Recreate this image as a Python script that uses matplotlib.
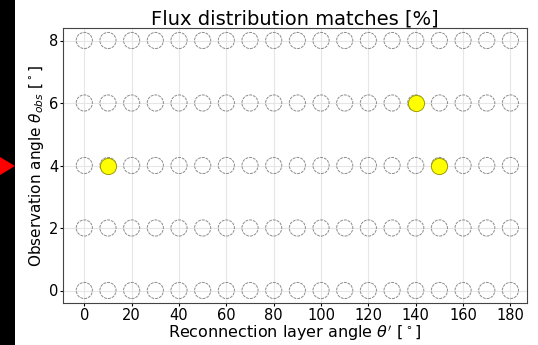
import numpy as np
import matplotlib
matplotlib.use('Agg')
import matplotlib.pyplot as plt
from matplotlib.patches import Rectangle, Polygon

# grid of angles that were scanned
theta_layer = np.arange(0, 181, 10)      # reconnection layer angle [deg]
theta_obs = np.array([0, 2, 4, 6, 8])    # observation angle [deg]

# combinations where the flux distribution matched
match_layer = [10, 140, 150]
match_obs = [4, 6, 4]

xticks = list(range(0, 181, 20))
yticks = [0, 2, 4, 6, 8]

fig = plt.figure(figsize=(5.38, 3.45), dpi=100)
ax = fig.add_axes([63/538, 1 - 303/345, (527 - 63)/538, (303 - 28)/345])

xx, yy = np.meshgrid(theta_layer, theta_obs)
ax.scatter(xx.ravel(), yy.ravel(), s=135, facecolors='none',
           edgecolors='#8c8c8c', linewidths=0.7, linestyle=(0, (3, 1)), zorder=3)
ax.scatter(match_layer, match_obs, s=135, facecolors='#ffff00',
           edgecolors='#a0a000', linewidths=0.7, zorder=4)

ax.set_xlim(-9, 187)
ax.set_xticks(xticks)
ax.set_yticks(yticks)
ax.tick_params(labelsize=10.5, length=2.5, pad=1)
ax.grid(True, color='#e6e6e6', linewidth=0.8, zorder=0)
ax.set_axisbelow(True)
for s in ax.spines.values():
	s.set_color('#444444')
	s.set_linewidth(0.8)

ax.set_xlabel(r"Reconnection layer angle $\theta'$ [$^\circ$]", fontsize=11.5, labelpad=0)
ax.set_ylabel(r"Observation angle $\theta_{obs}$ [$^\circ$]", fontsize=11, labelpad=2)
ax.set_title("Flux distribution matches [%]", fontsize=14, pad=1)

# black strip and red pointer on the left edge of the picture
fig.patches.append(Rectangle((0, 0), 15/538, 1, transform=fig.transFigure,
                             facecolor='black', edgecolor='none', zorder=0))
fig.patches.append(Polygon([(0, 1 - 157/345), (15/538, 1 - 166/345), (0, 1 - 175/345)],
                           closed=True, transform=fig.transFigure,
                           facecolor='#ff0000', edgecolor='none', zorder=1))

fig.savefig('out.png', dpi=100)
